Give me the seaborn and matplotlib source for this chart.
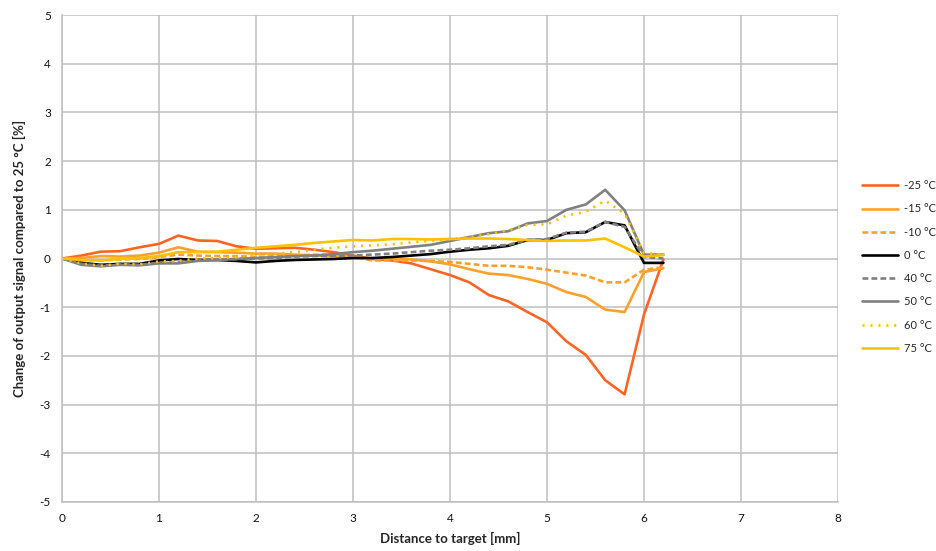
import numpy as np
import pandas as pd
import matplotlib
matplotlib.use("Agg")
import matplotlib.pyplot as plt
import seaborn as sns

distance = [0.0, 0.2, 0.4, 0.6, 0.8, 1.0, 1.2, 1.4, 1.6, 1.8, 2.0, 2.2, 2.4, 2.6, 2.8, 3.0,
            3.2, 3.4, 3.6, 3.8, 4.0, 4.2, 4.4, 4.6, 4.8, 5.0, 5.2, 5.4, 5.6, 5.8, 6.0, 6.2]

t_m25 = [0.0, 0.06, 0.14, 0.15, 0.23, 0.30, 0.47, 0.37, 0.36, 0.25, 0.20, 0.21, 0.22, 0.18, 0.13, 0.06,
         -0.01, -0.04, -0.10, -0.22, -0.34, -0.49, -0.75, -0.88, -1.10, -1.31, -1.70, -1.98, -2.50, -2.79, -1.15, -0.02]
t_m15 = [0.0, 0.01, 0.05, 0.04, 0.06, 0.12, 0.23, 0.14, 0.13, 0.12, 0.10, 0.10, 0.08, 0.06, 0.05, 0.02,
         0.0, 0.0, -0.02, -0.06, -0.12, -0.22, -0.31, -0.34, -0.42, -0.52, -0.69, -0.79, -1.05, -1.10, -0.28, -0.20]
t_m10 = [0.0, -0.03, -0.04, -0.02, -0.01, 0.03, 0.08, 0.06, 0.05, 0.05, 0.03, 0.05, 0.06, 0.08, 0.07, 0.03,
         -0.04, -0.04, -0.04, -0.05, -0.07, -0.11, -0.15, -0.15, -0.18, -0.23, -0.29, -0.35, -0.49, -0.49, -0.23, -0.18]
t_0 = [0.0, -0.09, -0.13, -0.11, -0.11, -0.04, -0.01, -0.03, -0.03, -0.05, -0.08, -0.05, -0.03, -0.02, -0.01, 0.01,
       0.01, 0.03, 0.06, 0.09, 0.14, 0.18, 0.21, 0.26, 0.38, 0.38, 0.52, 0.54, 0.75, 0.68, -0.09, -0.09]
t_40 = [0.0, -0.11, -0.15, -0.12, -0.13, -0.09, -0.08, -0.04, -0.03, -0.01, 0.0, 0.01, 0.04, 0.05, 0.05, 0.06,
        0.08, 0.10, 0.13, 0.16, 0.18, 0.21, 0.25, 0.28, 0.38, 0.40, 0.53, 0.55, 0.75, 0.65, 0.03, 0.0]
t_50 = [0.0, -0.13, -0.16, -0.13, -0.14, -0.10, -0.10, -0.05, -0.03, -0.01, 0.01, 0.03, 0.05, 0.06, 0.09, 0.13,
        0.16, 0.20, 0.24, 0.28, 0.36, 0.44, 0.52, 0.56, 0.72, 0.77, 1.00, 1.11, 1.41, 0.99, 0.08, 0.08]
t_60 = [0.0, -0.10, -0.15, -0.11, -0.12, -0.06, -0.05, 0.0, 0.01, 0.03, 0.08, 0.10, 0.13, 0.18, 0.22, 0.25,
        0.27, 0.29, 0.33, 0.36, 0.40, 0.44, 0.50, 0.58, 0.69, 0.70, 0.88, 0.96, 1.19, 0.92, 0.11, 0.08]
t_75 = [0.0, -0.03, -0.04, -0.01, 0.01, 0.05, 0.13, 0.13, 0.14, 0.18, 0.22, 0.25, 0.28, 0.32, 0.35, 0.38,
        0.37, 0.40, 0.40, 0.39, 0.40, 0.41, 0.41, 0.40, 0.38, 0.36, 0.37, 0.37, 0.41, 0.23, 0.04, 0.07]

labels = ["-25 °C", "-15 °C", "-10 °C", "0 °C", "40 °C", "50 °C", "60 °C", "75 °C"]
series = [t_m25, t_m15, t_m10, t_0, t_40, t_50, t_60, t_75]
colors = ["#FF6422", "#FFA02A", "#FFA02A", "#000000", "#808080", "#808080", "#FFC000", "#FFC000"]
styles = ["-", "-", (0, (2.2, 1.2)), "-", (0, (2.2, 1.2)), "-", (0, (0.8, 2.2)), "-"]

rows = []
for lab, vals in zip(labels, series):
    for d, v in zip(distance, vals):
        rows.append({"Distance": d, "Value": v, "Temp": lab})
df = pd.DataFrame(rows)

sns.set_theme(style="white")
plt.rcParams["font.family"] = ["Lato", "DejaVu Sans"]
plt.rcParams["axes.unicode_minus"] = False

fig = plt.figure(figsize=(9.36, 5.51), dpi=100)
ax = fig.add_axes([62 / 936, 1 - 502 / 551, (838 - 62) / 936, (502 - 15) / 551])

handles = []
for lab, col, ls in zip(labels, colors, styles):
    sub = df[df["Temp"] == lab]
    sns.lineplot(data=sub, x="Distance", y="Value", ax=ax, color=col, linewidth=1.9,
                 linestyle=ls, legend=False, estimator=None, sort=False)
    ln = ax.lines[-1]
    ln.set_linestyle(ls)
    ln.set_label(lab)
    handles.append(ln)

ax.set_xlim(0, 8)
ax.set_ylim(-5, 5)
ax.set_xticks(range(0, 9))
ax.set_yticks(range(-5, 6))
ax.grid(True, color="#BEBEBE", linewidth=1.1)
ax.set_axisbelow(True)
for s in ["top", "right"]:
    ax.spines[s].set_visible(False)
for s in ["left", "bottom"]:
    ax.spines[s].set_color("#BEBEBE")
    ax.spines[s].set_linewidth(1.1)
ax.tick_params(axis="both", which="both", length=4, width=1.1, color="#BEBEBE",
               labelsize=8.5, labelcolor="#111111", pad=4)

ax.set_xlabel("Distance to target [mm]", fontsize=9.5, fontweight="bold", labelpad=6)
ax.set_ylabel("Change of output signal compared to 25 °C [%]", fontsize=9.5,
              fontweight="bold", labelpad=10)

leg = fig.legend(handles=handles, labels=labels, loc="center left",
                 bbox_to_anchor=(862 / 936, 1 - 267 / 551), frameon=False, fontsize=8,
                 handlelength=3.2, labelspacing=1.1, handletextpad=0.6,
                 borderaxespad=0.0, borderpad=0.0)

fig.savefig("out.png", dpi=100)
